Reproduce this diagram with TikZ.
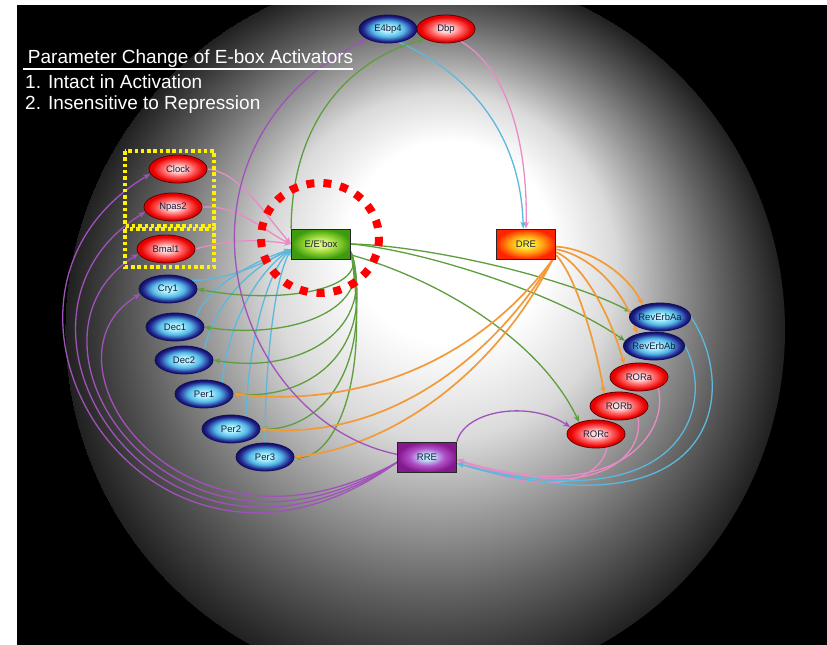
\documentclass[tikz,border=0pt]{standalone}
\usepackage{fontspec}
\setmainfont{Liberation Sans}
\usetikzlibrary{shapes.geometric,arrows.meta}
\definecolor{cyanL}{HTML}{B4F4FF}
\definecolor{cyanM}{HTML}{52B8E6}
\definecolor{navyD}{HTML}{20208E}
\definecolor{navyE}{HTML}{101058}
\definecolor{pinkL}{HTML}{FFDCDC}
\definecolor{redM}{HTML}{FF5C5C}
\definecolor{redD}{HTML}{E80000}
\definecolor{redE}{HTML}{5A0000}
\definecolor{grnL}{HTML}{DAF47C}
\definecolor{grnM}{HTML}{8CD030}
\definecolor{grnD}{HTML}{3E9A0E}
\definecolor{yelL}{HTML}{FFF23C}
\definecolor{orgM}{HTML}{FF9A10}
\definecolor{orgD}{HTML}{FF2400}
\definecolor{purL}{HTML}{BEE6F8}
\definecolor{purM}{HTML}{B050C8}
\definecolor{purD}{HTML}{86188E}
\definecolor{glowA}{HTML}{DADADA}
\definecolor{glowB}{HTML}{9C9C9C}
\definecolor{glowC}{HTML}{626262}
\definecolor{glowD}{HTML}{3A3A3A}
\definecolor{glowE}{HTML}{202020}
\definecolor{nodetext}{HTML}{1C1C3C}
\definecolor{pinkC}{HTML}{E98CC6}
\definecolor{cyanC}{HTML}{5CB8DC}
\definecolor{greenC}{HTML}{5E9E3C}
\definecolor{orangeC}{HTML}{F39A38}
\definecolor{purpleC}{HTML}{A052BA}
\definecolor{hiYellow}{HTML}{FFF200}
\definecolor{hiRed}{HTML}{FF0000}
\pgfdeclareradialshading{bluesh}{\pgfpoint{0bp}{0bp}}{color(0bp)=(cyanL); color(5bp)=(cyanL); color(14bp)=(cyanM); color(22bp)=(navyD); color(25bp)=(navyE); color(50bp)=(navyE)}
\pgfdeclareradialshading{redsh}{\pgfpoint{0bp}{0bp}}{color(0bp)=(pinkL); color(5bp)=(pinkL); color(14bp)=(redM); color(22bp)=(redD); color(50bp)=(redD)}
\pgfdeclareradialshading{greensh}{\pgfpoint{0bp}{0bp}}{color(0bp)=(grnL); color(6bp)=(grnL); color(15bp)=(grnM); color(25bp)=(grnD); color(50bp)=(grnD)}
\pgfdeclareradialshading{dresh}{\pgfpoint{0bp}{0bp}}{color(0bp)=(yelL); color(5bp)=(yelL); color(15bp)=(orgM); color(25bp)=(orgD); color(50bp)=(orgD)}
\pgfdeclareradialshading{rresh}{\pgfpoint{0bp}{0bp}}{color(0bp)=(purL); color(5bp)=(purL); color(15bp)=(purM); color(25bp)=(purD); color(50bp)=(purD)}
\pgfdeclareradialshading{glowsh}{\pgfpoint{2.4bp}{8.5bp}}{color(0bp)=(white); color(7bp)=(white); color(12bp)=(glowA); color(16bp)=(glowB); color(20bp)=(glowC); color(23bp)=(glowD); color(25bp)=(glowE)}
\pgfdeclarelayer{bg}
\pgfdeclarelayer{edges}
\pgfsetlayers{bg,edges,main}
\newcommand\nfnt{\fontsize{9.5}{11}\selectfont}
\tikzset{
  gnode/.style={ellipse, draw=#1, line width=0.8pt, minimum width=58pt, minimum height=28pt, inner sep=0pt, font=\nfnt, text=nodetext},
  bnode/.style={gnode=navyE, shading=bluesh},
  rnode/.style={gnode=redE, shading=redsh},
  procbox/.style={rectangle, draw=black!85, line width=0.8pt, minimum width=59pt, minimum height=30pt, inner sep=0pt, font=\nfnt, text=nodetext},
  ed/.style={line width=1.3pt, -{Stealth[length=7pt,width=5.5pt]}},
  pinkE/.style={ed, draw=pinkC},
  cyanE/.style={ed, draw=cyanC},
  greenE/.style={ed, draw=greenC},
  orangeE/.style={ed, draw=orangeC, line width=1.7pt},
  purpleE/.style={ed, draw=purpleC},
  titletext/.style={anchor=base west, text=white, inner sep=0pt, font=\fontsize{19}{22}\selectfont},
  ybox/.style={draw=hiYellow, line width=3.5pt, dash pattern=on 3.5pt off 2.8pt},
  rcirc/.style={draw=hiRed, line width=8pt, dash pattern=on 8pt off 9pt}
}
\begin{document}
\begin{tikzpicture}[x=1pt,y=-1pt]
\useasboundingbox (0,0) rectangle (827,645);
\begin{pgfonlayer}{bg}
  \fill[white] (0,0) rectangle (827,645);
  \fill[black] (17,5) rectangle (827,645);
  \begin{scope}
    \clip (17,5) rectangle (827,645);
    \clip (425,330) circle [radius=360];
    \shade[shading=glowsh] (65,-30) rectangle (785,690);
  \end{scope}
\end{pgfonlayer}

% title
\node[titletext] (t1) at (22.5,63) {\ Parameter Change of E-box Activators};
\draw[white, line width=1.3pt] ([yshift=-6pt]t1.base west) -- ([yshift=-6pt]t1.base east);
\node[titletext] (t2) at (25,88.5) {1. Intact in Activation};
\node[titletext] (t3) at (25,109.5) {2. Insensitive to Repression};

% nodes
\node[bnode] (e4bp4) at (388,29) {E4bp4};
\node[rnode] (dbp) at (446,29) {Dbp};
\node[rnode] (clock) at (178,169) {Clock};
\node[rnode] (npas2) at (173,207) {Npas2};
\node[rnode] (bmal1) at (166,249) {Bmal1};
\node[bnode] (cry1) at (168,289) {Cry1};
\node[bnode] (dec1) at (175,327) {Dec1};
\node[bnode] (dec2) at (184,360) {Dec2};
\node[bnode] (per1) at (204,394) {Per1};
\node[bnode] (per2) at (231,429) {Per2};
\node[bnode] (per3) at (265,457) {Per3};
\node[procbox, shading=greensh] (ebox) at (321,244) {E/E'box};
\node[procbox, shading=dresh] (dre) at (526,244) {DRE};
\node[procbox, shading=rresh] (rre) at (427,457) {RRE};
\node[bnode] (reva) at (660,317) {RevErbAa};
\node[bnode] (revb) at (654,346) {RevErbAb};
\node[rnode] (rora) at (639,377) {RORa};
\node[rnode] (rorb) at (619,406) {RORb};
\node[rnode] (rorc) at (596,434) {RORc};

\begin{pgfonlayer}{edges}
% pink
\draw[pinkE] (clock.east) .. controls (240,172) and (265,215) .. (ebox.west);
\draw[pinkE] (npas2.east) .. controls (240,205) and (265,232) .. (ebox.west);
\draw[pinkE] (bmal1.east) .. controls (235,238) and (262,240) .. (ebox.west);
\draw[pinkE] (dbp.-40) .. controls (510,70) and (528,150) .. (dre.north);
\draw[pinkE] (rora.-30) .. controls (670,430) and (620,510) .. (rre.-5);
\draw[pinkE] (rorb.-30) .. controls (645,460) and (590,505) .. (rre.-5);
\draw[pinkE] (rorc.-50) .. controls (600,480) and (550,500) .. (rre.-5);
% cyan
\draw[cyanE] (cry1.20) .. controls (230,280) and (265,262) .. (ebox.190);
\draw[cyanE] (dec1.25) .. controls (205,290) and (250,262) .. (ebox.190);
\draw[cyanE] (dec2.27) .. controls (215,300) and (255,265) .. (ebox.190);
\draw[cyanE] (per1.32) .. controls (228,320) and (260,270) .. (ebox.190);
\draw[cyanE] (per2.40) .. controls (248,350) and (265,275) .. (ebox.190);
\draw[cyanE] (per3.north) .. controls (265,380) and (272,285) .. (ebox.190);
\draw[cyanE] (e4bp4.-50) .. controls (440,60) and (520,110) .. (dre.100);
\draw[cyanE] (reva.east) .. controls (740,390) and (720,540) .. (rre.-12);
\draw[cyanE] (revb.east) .. controls (715,400) and (690,525) .. (rre.-12);
% green
\draw[greenE] (ebox.north west) .. controls (292,120) and (350,60) .. (dbp.205);
\draw[greenE] (ebox.east) .. controls (420,245) and (560,275) .. (reva.170);
\draw[greenE] (ebox.east) .. controls (420,250) and (555,292) .. (revb.170);
\draw[greenE] (ebox.-20) .. controls (440,280) and (540,340) .. (rorc.145);
\draw[greenE] (ebox.-15) .. controls (370,290) and (280,305) .. (cry1.east);
\draw[greenE] (ebox.-15) .. controls (375,310) and (290,340) .. (dec1.east);
\draw[greenE] (ebox.-15) .. controls (378,330) and (300,375) .. (dec2.east);
\draw[greenE] (ebox.-15) .. controls (378,350) and (310,400) .. (per1.east);
\draw[greenE] (ebox.-15) .. controls (375,370) and (320,430) .. (per2.east);
\draw[greenE] (ebox.-15) .. controls (372,390) and (330,460) .. (per3.east);
% orange
\draw[orangeE] (dre.-30) .. controls (490,345) and (380,410) .. (per1.east);
\draw[orangeE] (dre.-30) .. controls (495,355) and (390,440) .. (per2.east);
\draw[orangeE] (dre.-30) .. controls (500,365) and (400,445) .. (per3.east);
\draw[orangeE] (dre.-5) .. controls (585,248) and (625,270) .. (reva.145);
\draw[orangeE] (dre.-10) .. controls (590,255) and (625,290) .. (revb.145);
\draw[orangeE] (dre.-15) .. controls (585,265) and (612,320) .. (rora.140);
\draw[orangeE] (dre.-20) .. controls (575,275) and (595,340) .. (rorb.140);
% purple
\draw[purpleE] (rre.175) .. controls (230,420) and (150,150) .. (e4bp4.205);
\draw[purpleE] (rre.190) .. controls (150,640) and (-60,300) .. (clock.190);
\draw[purpleE] (rre.190) .. controls (160,620) and (-30,320) .. (npas2.190);
\draw[purpleE] (rre.190) .. controls (170,600) and (0,340) .. (bmal1.190);
\draw[purpleE] (rre.190) .. controls (180,580) and (30,360) .. (cry1.190);
\draw[purpleE] (rre.north east) .. controls (465,410) and (530,400) .. (rorc.165);
\end{pgfonlayer}

% highlights
\draw[ybox] (125,151) rectangle (214,226);
\draw[ybox] (125,229) rectangle (214,267);
\draw[rcirc] (320,238) ellipse [x radius=59, y radius=55];
\end{tikzpicture}
\end{document}
